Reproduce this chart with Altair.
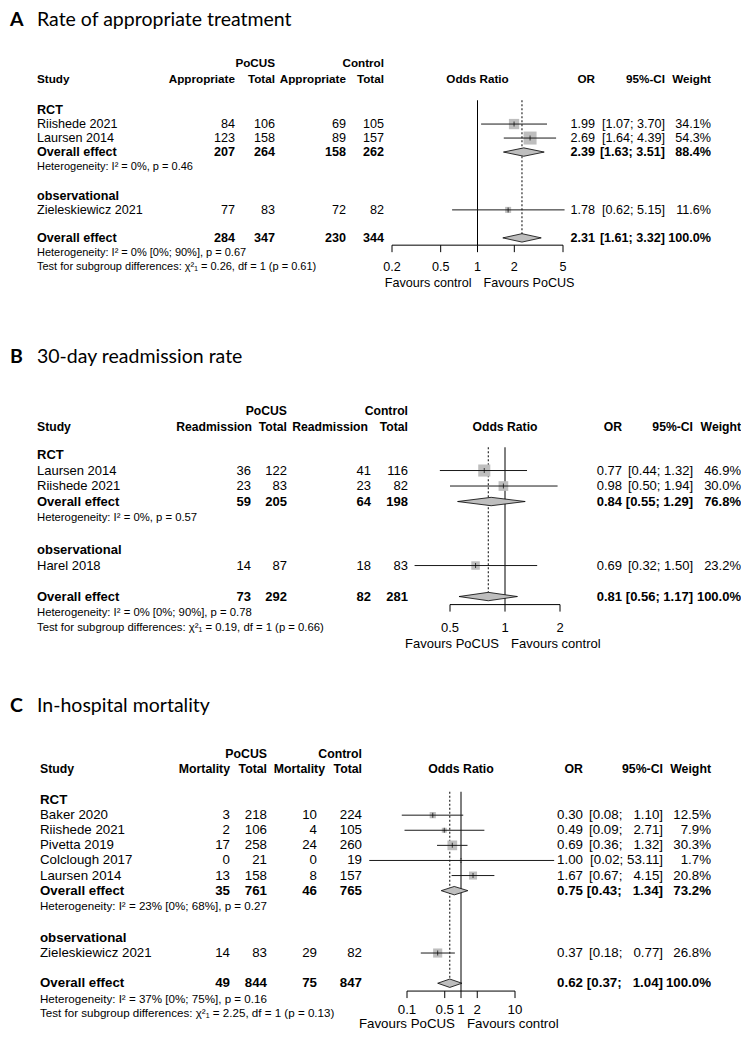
import altair as alt
import pandas as pd

M = 8  # page margin
FONT = "Arial"
TFONT = "Lato"
SQ = "#bebebe"
LINE = "#1a1a1a"

# ===== Panel A: Rate of appropriate treatment =====
A_study = ["Riishede 2021", "Laursen 2014", "Zieleskiewicz 2021"]
A_design = ["RCT", "RCT", "observational"]
A_ev_pocus = [84, 123, 77]
A_n_pocus = [106, 158, 83]
A_ev_ctrl = [69, 89, 72]
A_n_ctrl = [105, 157, 82]
A_or = [1.99, 2.69, 1.78]
A_lo = [1.07, 1.64, 0.62]
A_hi = [3.70, 4.39, 5.15]
A_weight = [34.1, 54.3, 11.6]
A_sub_design = ["RCT"]
A_sub_counts = [[207, 264, 158, 262]]
A_sub_or = [2.39]
A_sub_lo = [1.63]
A_sub_hi = [3.51]
A_sub_weight = [88.4]
A_sub_het = ["Heterogeneity: I² = 0%, p = 0.46"]
A_all_counts = [284, 347, 230, 344]
A_all_est = [2.31, 1.61, 3.32, 100.0]
A_all_het = "Heterogeneity: I² = 0% [0%; 90%], p = 0.67"
A_test = "Test for subgroup differences: χ²₁ = 0.26, df = 1 (p = 0.61)"
A_ticks = [0.2, 0.5, 1, 2, 5]
A_favours = ["Favours control", "Favours PoCUS"]

# ===== Panel B: 30-day readmission rate =====
B_study = ["Laursen 2014", "Riishede 2021", "Harel 2018"]
B_design = ["RCT", "RCT", "observational"]
B_ev_pocus = [36, 23, 14]
B_n_pocus = [122, 83, 87]
B_ev_ctrl = [41, 23, 18]
B_n_ctrl = [116, 82, 83]
B_or = [0.77, 0.98, 0.69]
B_lo = [0.44, 0.50, 0.32]
B_hi = [1.32, 1.94, 1.50]
B_weight = [46.9, 30.0, 23.2]
B_sub_design = ["RCT"]
B_sub_counts = [[59, 205, 64, 198]]
B_sub_or = [0.84]
B_sub_lo = [0.55]
B_sub_hi = [1.29]
B_sub_weight = [76.8]
B_sub_het = ["Heterogeneity: I² = 0%, p = 0.57"]
B_all_counts = [73, 292, 82, 281]
B_all_est = [0.81, 0.56, 1.17, 100.0]
B_all_het = "Heterogeneity: I² = 0% [0%; 90%], p = 0.78"
B_test = "Test for subgroup differences: χ²₁ = 0.19, df = 1 (p = 0.66)"
B_ticks = [0.5, 1, 2]
B_favours = ["Favours PoCUS", "Favours control"]

# ===== Panel C: In-hospital mortality =====
C_study = ["Baker 2020", "Riishede 2021", "Pivetta 2019", "Colclough 2017",
           "Laursen 2014", "Zieleskiewicz 2021"]
C_design = ["RCT", "RCT", "RCT", "RCT", "RCT", "observational"]
C_ev_pocus = [3, 2, 17, 0, 13, 14]
C_n_pocus = [218, 106, 258, 21, 158, 83]
C_ev_ctrl = [10, 4, 24, 0, 8, 29]
C_n_ctrl = [224, 105, 260, 19, 157, 82]
C_or = [0.30, 0.49, 0.69, 1.00, 1.67, 0.37]
C_lo = [0.08, 0.09, 0.36, 0.02, 0.67, 0.18]
C_hi = [1.10, 2.71, 1.32, 53.11, 4.15, 0.77]
C_weight = [12.5, 7.9, 30.3, 1.7, 20.8, 26.8]
C_sub_design = ["RCT"]
C_sub_counts = [[35, 761, 46, 765]]
C_sub_or = [0.75]
C_sub_lo = [0.43]
C_sub_hi = [1.34]
C_sub_weight = [73.2]
C_sub_het = ["Heterogeneity: I² = 23% [0%; 68%], p = 0.27"]
C_all_counts = [49, 844, 75, 847]
C_all_est = [0.62, 0.37, 1.04, 100.0]
C_all_het = "Heterogeneity: I² = 37% [0%; 75%], p = 0.16"
C_test = "Test for subgroup differences: χ²₁ = 2.25, df = 1 (p = 0.13)"
C_ticks = [0.1, 0.5, 1, 2, 10]
C_favours = ["Favours PoCUS", "Favours control"]


def pack(pre, letter, title, ev, layout):
    g = globals()
    d = dict(letter=letter, title=title, ev=ev)
    for k in ["study", "design", "ev_pocus", "n_pocus", "ev_ctrl", "n_ctrl", "or", "lo", "hi",
              "weight", "sub_design", "sub_counts", "sub_or", "sub_lo", "sub_hi", "sub_weight",
              "sub_het", "all_counts", "all_est", "all_het", "test", "ticks", "favours"]:
        d[k] = g[pre + "_" + k]
    d.update(layout)
    return d


PA = pack("A", "A", "Rate of appropriate treatment", "Appropriate", dict(
    lh=14.0, height=330, fs=12.6, hfs=11.7, sq=13, title_line=0.85, head1=3.93, head2=5.07,
    first=7.29, tick_off=2.05, fav_off=3.2, top_off=0.7,
    cols=dict(study=37, e1=235, e1h=235, n1=275, e2=346, e2h=346, n2=384, orc=595, ci=665, w=711),
    px=[392, 563], dom=[0.2, 5]))
PB = pack("B", "B", "30-day readmission rate", "Readmission", dict(
    lh=15.5, height=347, fs=13.0, hfs=12.2, sq=14, title_line=1.23, head1=4.71, head2=5.74,
    first=7.55, tick_off=2.0, fav_off=3.03, top_off=0.5,
    cols=dict(study=37, e1=251, e1h=252, n1=287, e2=371, e2h=368, n2=408, orc=622, ci=693, w=741),
    px=[450, 560], dom=[0.5, 2]))
PC = pack("C", "C", "In-hospital mortality", "Mortality", dict(
    lh=15.1, height=346, fs=13.3, hfs=12.3, sq=13, title_line=1.4, head1=4.57, head2=5.56,
    first=7.62, tick_off=1.8, fav_off=2.7, top_off=0.55,
    cols=dict(study=40, e1=230, e1h=230, n1=267, e2=317, e2h=325, n2=362, orc=583, ci=663, w=711),
    px=[407, 515], dom=[0.1, 10]))


def build(P):
    lh, H, fs = P["lh"], P["height"], P["fs"]
    sfs = round(fs * 0.87, 1)
    hd = P["hfs"]
    C = P["cols"]
    xs = alt.Scale(type="log", domain=P["dom"], range=[P["px"][0] - M, P["px"][1] - M])
    ys = alt.Scale(domain=[0, H / lh], range=[0, H], zero=False, nice=False)
    Y = alt.Y("y:Q", scale=ys, axis=None, stack=None)

    los = [f"{v:.2f}" for v in P["lo"] + P["sub_lo"] + [P["all_est"][1]]]
    his = [f"{v:.2f}" for v in P["hi"] + P["sub_hi"] + [P["all_est"][2]]]
    wl, wh = max(map(len, los)), max(map(len, his))

    def ci(lo, hi):
        a, b = f"{lo:.2f}", f"{hi:.2f}"
        return "[" + "\u2007" * (wl - len(a)) + a + "; " + "\u2007" * (wh - len(b)) + b + "]"

    items = []

    def T(text, y, anchor=None, xv=None, align="left", bold=False, size=None, font=FONT, dx=0):
        items.append(dict(text=str(text), y=y, anchor=anchor, xv=xv, align=align,
                          bold=bold, size=size or fs, font=font, dx=dx))

    T(P["letter"], P["title_line"], anchor=10, bold=True, size=19.5, font=TFONT)
    T(P["title"], P["title_line"], anchor=37, size=19.5, font=TFONT)
    T("PoCUS", P["head1"], anchor=C["n1"], align="right", bold=True, size=hd)
    T("Control", P["head1"], anchor=C["n2"], align="right", bold=True, size=hd)
    h2 = P["head2"]
    T("Study", h2, anchor=C["study"], bold=True, size=hd)
    T(P["ev"], h2, anchor=C["e1h"], align="right", bold=True, size=hd)
    T("Total", h2, anchor=C["n1"], align="right", bold=True, size=hd)
    T(P["ev"], h2, anchor=C["e2h"], align="right", bold=True, size=hd)
    T("Total", h2, anchor=C["n2"], align="right", bold=True, size=hd)
    T("Odds Ratio", h2, xv=1, align="center", bold=True, size=hd)
    T("OR", h2, anchor=C["orc"], align="right", bold=True, size=hd)
    T("95%-CI", h2, anchor=C["ci"], align="right", bold=True, size=hd)
    T("Weight", h2, anchor=C["w"], align="right", bold=True, size=hd)

    def table_row(label, counts, est, lo, hi, w, y, bold):
        T(label, y, anchor=C["study"], bold=bold)
        for key, v in zip(["e1", "n1", "e2", "n2"], counts):
            T(v, y, anchor=C[key], align="right", bold=bold)
        T(f"{est:.2f}", y, anchor=C["orc"], align="right", bold=bold)
        T(ci(lo, hi), y, anchor=C["ci"], align="right", bold=bold)
        T(f"{w:.1f}%", y, anchor=C["w"], align="right", bold=bold)

    studies, diamonds = [], []

    def diamond(est, lo, hi, y, key):
        hh = 4.2 / lh
        diamonds.extend([
            dict(id=key, x=lo, y=y, y2=y),
            dict(id=key, x=est, y=y - hh, y2=y + hh),
            dict(id=key, x=hi, y=y, y2=y),
        ])

    y = P["first"]
    groups = list(dict.fromkeys(P["design"]))
    for gi, g in enumerate(groups):
        if gi > 0:
            y += 2.05
        T(g, y, anchor=C["study"], bold=True)
        for i, d in enumerate(P["design"]):
            if d != g:
                continue
            y += 1
            table_row(P["study"][i], [P["ev_pocus"][i], P["n_pocus"][i], P["ev_ctrl"][i], P["n_ctrl"][i]],
                      P["or"][i], P["lo"][i], P["hi"][i], P["weight"][i], y, False)
            studies.append(dict(est=P["or"][i], lo=P["lo"][i], hi=P["hi"][i], w=P["weight"][i], y=y))
        if g in P["sub_design"]:
            j = P["sub_design"].index(g)
            y += 1
            table_row("Overall effect", P["sub_counts"][j], P["sub_or"][j], P["sub_lo"][j],
                      P["sub_hi"][j], P["sub_weight"][j], y, True)
            diamond(P["sub_or"][j], P["sub_lo"][j], P["sub_hi"][j], y, "sub" + g)
            y += 1.08
            T(P["sub_het"][j], y, anchor=C["study"], size=sfs)
    y += 2.0
    ytot = y
    est, lo, hi, w = P["all_est"]
    table_row("Overall effect", P["all_counts"], est, lo, hi, w, ytot, True)
    diamond(est, lo, hi, ytot, "all")
    T(P["all_het"], ytot + 1.08, anchor=C["study"], size=sfs)
    T(P["test"], ytot + 2.05, anchor=C["study"], size=sfs)

    yaxis = ytot + 0.52
    ytop = P["first"] - P["top_off"]
    for t in P["ticks"]:
        T(f"{t:g}", ytot + P["tick_off"], xv=t, align="center")
    T(P["favours"][0], ytot + P["fav_off"], xv=1, align="right", dx=-6)
    T(P["favours"][1], ytot + P["fav_off"], xv=1, align="left", dx=6)

    layers = []
    null_df = pd.DataFrame([dict(x=1, y=ytop, y2=yaxis)])
    layers.append(alt.Chart(null_df).mark_rule(color="black", strokeWidth=1).encode(
        x=alt.X("x:Q", scale=xs, axis=None), y=Y, y2="y2:Q"))
    dot_df = pd.DataFrame([dict(x=est, y=ytop, y2=ytot)])
    layers.append(alt.Chart(dot_df).mark_rule(color="black", strokeWidth=1, strokeDash=[2, 2]).encode(
        x=alt.X("x:Q", scale=xs, axis=None), y=Y, y2="y2:Q"))

    sdf = pd.DataFrame(studies)
    maxw = max(P["weight"])
    layers.append(alt.Chart(sdf).mark_square(color=SQ, opacity=1).encode(
        x=alt.X("est:Q", scale=xs, axis=None), y=Y,
        size=alt.Size("w:Q", scale=alt.Scale(domain=[0, maxw], range=[0, P["sq"] ** 2]), legend=None)))
    layers.append(alt.Chart(sdf).mark_rule(color=LINE, strokeWidth=1).encode(
        x=alt.X("lo:Q", scale=xs, axis=None), x2="hi:Q", y=Y))
    layers.append(alt.Chart(sdf).mark_tick(orient="vertical", size=5, thickness=1, color="black").encode(
        x=alt.X("est:Q", scale=xs, axis=None), y=Y))

    ddf = pd.DataFrame(diamonds)
    layers.append(alt.Chart(ddf).mark_area(orient="vertical", fill=SQ, fillOpacity=1, stroke="black",
                                           strokeWidth=0.8).encode(
        x=alt.X("x:Q", scale=xs, axis=None), y=Y, y2="y2:Q", detail="id:N"))

    ax_df = pd.DataFrame([dict(x=P["dom"][0], x2=P["dom"][1], y=yaxis)])
    layers.append(alt.Chart(ax_df).mark_rule(color="black", strokeWidth=1).encode(
        x=alt.X("x:Q", scale=xs, axis=None), x2="x2:Q", y=Y))
    tk_df = pd.DataFrame([dict(x=t, y=yaxis, y2=yaxis + 7 / lh) for t in P["ticks"]])
    layers.append(alt.Chart(tk_df).mark_rule(color="black", strokeWidth=1).encode(
        x=alt.X("x:Q", scale=xs, axis=None), y=Y, y2="y2:Q"))

    keyed = {}
    for it in items:
        k = (it["anchor"], it["align"], it["bold"], it["size"], it["font"], it["dx"], it["xv"] is not None)
        keyed.setdefault(k, []).append(it)
    for k, lst in keyed.items():
        anchor, align, bold, size, font, dx, isdata = k
        df = pd.DataFrame([dict(text=i["text"], y=i["y"], xv=(i["xv"] if isdata else 1)) for i in lst])
        mk = alt.Chart(df).mark_text(align=align, baseline="middle", font=font, fontSize=size,
                                     fontWeight="bold" if bold else "normal", dx=dx, color="black")
        xenc = alt.X("xv:Q", scale=xs, axis=None) if isdata else alt.value(anchor - M)
        layers.append(mk.encode(x=xenc, y=Y, text="text:N"))

    return alt.layer(*layers).properties(width=733, height=H)


chart = alt.vconcat(build(PA), build(PB), build(PC), spacing=0).properties(
    padding=0, background="white").configure_view(stroke=None)

chart.save("out.html", embed_options={"renderer": "svg", "actions": False})
